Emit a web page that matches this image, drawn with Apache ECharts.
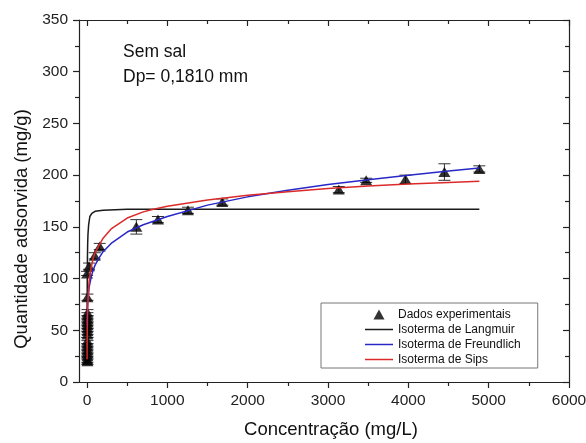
<!DOCTYPE html>
<html><head><meta charset="utf-8">
<script src="https://cdn.jsdelivr.net/npm/echarts@6/dist/echarts.min.js"></script>
<style>html,body{margin:0;padding:0;background:#fff}#c{width:586px;height:443px}</style>
</head><body><div id="c"></div>
<script>
// Experimental data (concentration mg/L, adsorbed mg/g, error bar half-length)
const expC   = [6, 5, 6, 5, 6, 5, 6, 5, 4, 5, 4, 5, 4, 5, 4, 5, 5, 0, 25, 96, 158, 614, 883, 1256, 1684, 3134, 3475, 3964, 4449, 4884];
const expQ   = [67, 64, 61, 58, 55, 52, 49, 46, 40, 37, 34, 31, 28, 25, 22, 20, 82, 105, 112, 122, 131, 150, 157, 166, 174, 186, 195, 196, 203, 206];
const expErr = [3, 3, 3, 3, 3, 3, 3, 3, 3, 3, 3, 3, 3, 3, 3, 3, 3, 2, 3, 3, 3, 7, 3, 3, 3, 3, 2, 4, 8, 3];

// Fitted curves
const langC = [0.5, 1, 2, 3, 5, 8, 12, 20, 35, 60, 100, 200, 500, 1000, 2000, 3000, 4000, 4884];
const langQ = [33, 56, 83, 100, 119, 134, 143, 152, 160, 163, 165, 166, 167, 167, 167, 167, 167, 167];

const freC = [1, 2, 5, 10, 25, 50, 75, 100, 150, 200, 300, 500, 700, 1000, 1500, 2000, 2500, 3000, 3500, 4000, 4500, 4884];
const freQ = [55, 61, 71, 79, 91, 101, 108, 113, 120, 126, 134, 145, 152, 160, 171, 179, 185.5, 191, 195.5, 200, 204, 207];

const sipsC = [0.5, 1, 2, 3, 5, 10, 25, 50, 75, 100, 150, 200, 300, 500, 700, 800, 1000, 1500, 2000, 2500, 3000, 3500, 4000, 4500, 4884];
const sipsQ = [22, 30, 42, 50, 60, 76, 97, 110, 119, 125, 132, 139, 148, 158.5, 164.5, 166.5, 170, 176, 180.5, 184, 187, 189.5, 191.5, 193, 194];

// Axis ticks
const xMajor = [0, 1000, 2000, 3000, 4000, 5000, 6000];
const xMinor = [500, 1500, 2500, 3500, 4500, 5500];

const FONT = '"Liberation Sans", Arial, sans-serif';
const AX = '#222';

const scatterData = expC.map((c, i) => [c, expQ[i]]);
const errData = expC.map((c, i) => [c, expQ[i] - expErr[i], expQ[i] + expErr[i]]);
const pairs = (xs, ys) => xs.map((x, i) => [x, ys[i]]);

const chart = echarts.init(document.getElementById('c'), null, {renderer: 'canvas'});

function xAx(pos, ticks, len, inside, labels) {
  return {
    type: 'value', position: pos, min: -100, max: 6000, offset: 0,
    axisLine: {show: true, onZero: false, lineStyle: {color: AX, width: 1.2}},
    axisTick: {show: true, inside: inside, length: len, customValues: ticks, lineStyle: {color: AX, width: 1.2}},
    axisLabel: labels ? {show: true, customValues: ticks, margin: 11, color: '#222', fontSize: 15.5, fontFamily: FONT,
      formatter: v => String(Math.round(v))} : {show: false},
    splitLine: {show: false}, minorTick: {show: false}
  };
}

const LINE_ICON = 'path://M0,0 L28,0 L28,1.5 L0,1.5 Z';
const TRI_ICON = 'path://M5.5,0 L11,10 L0,10 Z';

chart.setOption({
  animation: false,
  backgroundColor: '#fff',
  grid: {left: 79, top: 20, right: 17, bottom: 61, containLabel: false, outerBoundsMode: 'none'},
  xAxis: [
    xAx('bottom', xMajor, 6, false, true),
    xAx('bottom', xMinor, 4, false, false),
    xAx('top', xMajor, 6, true, false),
    xAx('top', xMinor, 4, true, false)
  ],
  yAxis: [
    {
      type: 'value', position: 'left', min: 0, max: 350, interval: 50,
      axisLine: {show: true, onZero: false, lineStyle: {color: AX, width: 1.2}},
      axisTick: {show: true, inside: false, length: 6, lineStyle: {color: AX, width: 1.2}},
      minorTick: {show: true, splitNumber: 2, length: 4, lineStyle: {color: AX, width: 1.2}},
      axisLabel: {margin: 11, color: '#222', fontSize: 15.5, fontFamily: FONT},
      splitLine: {show: false}
    },
    {
      type: 'value', position: 'right', min: 0, max: 350, interval: 50,
      axisLine: {show: true, onZero: false, lineStyle: {color: AX, width: 1.2}},
      axisTick: {show: true, inside: true, length: 6, lineStyle: {color: AX, width: 1.2}},
      minorTick: {show: true, splitNumber: 2, length: 4, lineStyle: {color: AX, width: 1.2}},
      axisLabel: {show: false},
      splitLine: {show: false}
    }
  ],
  legend: {
    orient: 'vertical', left: 321, top: 303,
    padding: [5.5, 17, 2.5, 44],
    itemWidth: 28, itemHeight: 10, itemGap: 3,
    symbolKeepAspect: true,
    borderColor: '#777', borderWidth: 1, backgroundColor: '#fff',
    textStyle: {fontSize: 12, color: '#111', fontFamily: FONT},
    data: [
      {name: 'Dados experimentais', icon: TRI_ICON},
      {name: 'Isoterma de Langmuir', icon: LINE_ICON},
      {name: 'Isoterma de Freundlich', icon: LINE_ICON},
      {name: 'Isoterma de Sips', icon: LINE_ICON}
    ]
  },
  graphic: [
    {type: 'text', x: 123, y: 52, style: {text: 'Sem sal', font: '17.5px ' + FONT, fill: '#111', textVerticalAlign: 'middle', verticalAlign: 'middle'}},
    {type: 'text', x: 123, y: 77, style: {text: 'Dp= 0,1810 mm', font: '17.5px ' + FONT, fill: '#111', textVerticalAlign: 'middle', verticalAlign: 'middle'}},
    {type: 'text', x: 22, y: 229, rotation: Math.PI / 2, style: {text: 'Quantidade adsorvida (mg/g)', font: '18.5px ' + FONT, fill: '#111', textAlign: 'center', align: 'center', textVerticalAlign: 'middle', verticalAlign: 'middle'}},
    {type: 'text', x: 331, y: 430, style: {text: 'Concentração (mg/L)', font: '18.5px ' + FONT, fill: '#111', textAlign: 'center', align: 'center', textVerticalAlign: 'middle', verticalAlign: 'middle'}}
  ],
  series: [
    {
      type: 'custom', name: 'err', xAxisIndex: 0, yAxisIndex: 0, z: 2,
      encode: {x: 0, y: [1, 2]},
      data: errData,
      renderItem: function (params, api) {
        const x = api.value(0), lo = api.value(1), hi = api.value(2);
        const a = api.coord([x, lo]), b = api.coord([x, hi]);
        const hw = 6;
        const st = {stroke: '#333', lineWidth: 1};
        return {type: 'group', children: [
          {type: 'line', shape: {x1: a[0], y1: a[1], x2: b[0], y2: b[1]}, style: st},
          {type: 'line', shape: {x1: a[0] - hw, y1: a[1], x2: a[0] + hw, y2: a[1]}, style: st},
          {type: 'line', shape: {x1: b[0] - hw, y1: b[1], x2: b[0] + hw, y2: b[1]}, style: st}
        ]};
      }
    },
    {
      type: 'scatter', name: 'Dados experimentais', xAxisIndex: 0, yAxisIndex: 0, z: 3,
      symbol: 'triangle', symbolSize: [12, 10],
      itemStyle: {color: '#000'},
      data: scatterData
    },
    {
      type: 'line', name: 'Isoterma de Langmuir', xAxisIndex: 0, yAxisIndex: 0, z: 4,
      symbol: 'none', showSymbol: false,
      lineStyle: {color: '#1a1a1a', width: 1.5}, itemStyle: {color: '#1a1a1a'},
      data: pairs(langC, langQ)
    },
    {
      type: 'line', name: 'Isoterma de Freundlich', xAxisIndex: 0, yAxisIndex: 0, z: 5,
      symbol: 'none', showSymbol: false,
      lineStyle: {color: '#2828c8', width: 1.5}, itemStyle: {color: '#2828c8'},
      data: pairs(freC, freQ)
    },
    {
      type: 'line', name: 'Isoterma de Sips', xAxisIndex: 0, yAxisIndex: 0, z: 6,
      symbol: 'none', showSymbol: false,
      lineStyle: {color: '#dc2a2a', width: 1.5}, itemStyle: {color: '#dc2a2a'},
      data: pairs(sipsC, sipsQ)
    }
  ]
});
</script>
</body></html>
